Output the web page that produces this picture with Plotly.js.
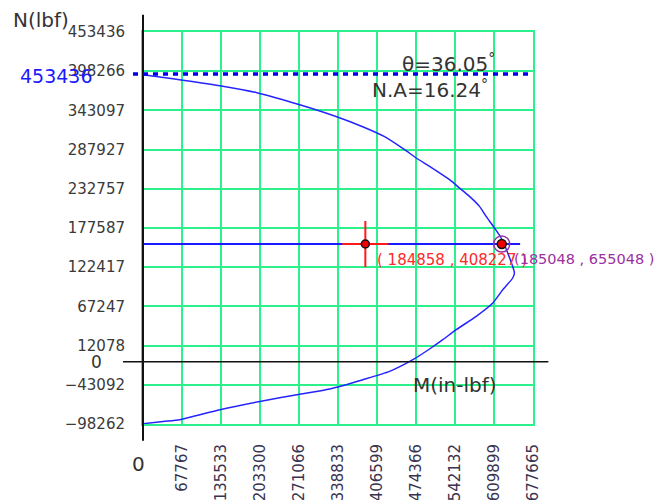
<!DOCTYPE html>
<html>
<head>
<meta charset="utf-8">
<script src="https://cdn.plot.ly/plotly-3.0.1.min.js"></script>
<style>html,body{margin:0;padding:0;background:#fff;}#chart{width:662px;height:500px;}</style>
</head>
<body>
<div id="chart"></div>
<script>
// ---- data ----
const xTickValues = [0, 67767, 135533, 203300, 271066, 338833, 406599, 474366, 542132, 609899, 677665];
const xTickLabels = ["", "67767", "135533", "203300", "271066", "338833", "406599", "474366", "542132", "609899", "677665"];
const yTickValues = [-98262, -43092, 12078, 67247, 122417, 177587, 232757, 287927, 343097, 398266, 453436];
const yTickLabels = ["\u221298262", "\u221243092", "12078", "67247", "122417", "177587", "232757", "287927", "343097", "398266", "453436"];

// interaction curve M (in-lbf) vs N (lbf)
const curveM = [0, 52048, 133590, 197780, 272380, 336570, 381680, 419850, 454550, 474840, 497920, 532620, 549970, 567320, 584670, 596290, 610690, 622310, 633770, 645390, 642440, 625090, 607740, 578940, 544240, 521000, 497920, 468950, 428530, 382200, 324430, 272380, 202990, 133590, 64190, 35220, 0];
const curveN = [393340, 387710, 377860, 368010, 351120, 334230, 320155, 306080, 287785, 276100, 264280, 245560, 233880, 222060, 207985, 193910, 177585, 163510, 142400, 114250, 107215, 90750, 72030, 53170, 34450, 20380, 7290, -7770, -24240, -35920, -49010, -56325, -66460, -78140, -92210, -94610, -97840];

// M axis ("0" line) as drawn on the grid scale
const originN = -10700;

// load line and points
const loadLineM = [0, 655270];
const loadLineN = [155070, 155070];
const appliedPoint = {m: 386360, n: 155070, label: "( 184858 , 408227 )"};
const capacityPoint = {m: 623350, n: 155070, label: "(185048 , 655048 )"};

// max axial capacity (dotted line) and its label
const maxN = 394330;
const maxNLabel = "453436";
const thetaText = "\u03b8=36.05<sup>\u00b0</sup>";
const naText = "N.A=16.24<sup>\u00b0</sup>";

const gridGreen = "#2cf08c";
const F = "DejaVu Sans, sans-serif";

const traces = [
  {x: curveM, y: curveN, mode: "lines", line: {color: "#2424ff", width: 1.5, shape: "spline", smoothing: 0.6}, hoverinfo: "skip"},
  {x: loadLineM, y: loadLineN, mode: "lines", line: {color: "#1a1aff", width: 2}, hoverinfo: "skip"},
  {x: [appliedPoint.m], y: [appliedPoint.n], mode: "markers", cliponaxis: false,
   marker: {symbol: "cross-thin-open", size: 33, color: "#ff1a1a", line: {color: "#ff1a1a", width: 2}}},
  {x: [appliedPoint.m], y: [appliedPoint.n], mode: "markers", cliponaxis: false,
   marker: {symbol: "circle", size: 8, color: "#ee0000", line: {color: "#111", width: 1.5}}},
  {x: [capacityPoint.m], y: [capacityPoint.n], mode: "markers", cliponaxis: false,
   marker: {symbol: "circle-open", size: 16, color: "#9b30a0", line: {color: "#9b30a0", width: 1.5}}},
  {x: [capacityPoint.m], y: [capacityPoint.n], mode: "markers", cliponaxis: false,
   marker: {symbol: "circle", size: 9, color: "#ee0000", line: {color: "#111", width: 1.5}}}
];

const layout = {
  width: 662, height: 500,
  margin: {l: 143, r: 129, t: 32, b: 76, pad: 0},
  paper_bgcolor: "#fff", plot_bgcolor: "#fff",
  showlegend: false,
  font: {family: F, color: "#333"},
  xaxis: {
    range: [xTickValues[0], xTickValues[xTickValues.length - 1]],
    tickmode: "array", tickvals: xTickValues, ticktext: xTickLabels,
    tickangle: -90, ticks: "outside", ticklen: 12, tickcolor: "rgba(0,0,0,0)",
    tickfont: {family: F, size: 15, color: "#3a3350"},
    showgrid: true, gridcolor: gridGreen, gridwidth: 2,
    zeroline: false, showline: true, linecolor: gridGreen, linewidth: 2, mirror: true,
    fixedrange: true
  },
  yaxis: {
    range: [yTickValues[0], yTickValues[yTickValues.length - 1]],
    tickmode: "array", tickvals: yTickValues, ticktext: yTickLabels,
    ticks: "outside", ticklen: 13, tickcolor: "rgba(0,0,0,0)",
    tickfont: {family: F, size: 15, color: "#3a3a3a"},
    showgrid: true, gridcolor: gridGreen, gridwidth: 2,
    zeroline: false, showline: true, linecolor: gridGreen, linewidth: 2, mirror: true,
    fixedrange: true
  },
  shapes: [
    // M axis line
    {type: "line", xref: "paper", yref: "y", x0: -0.0512, x1: 1.0394, y0: originN, y1: originN,
     line: {color: "#111", width: 1.5}, layer: "above"},
    // vertical N axis
    {type: "line", xref: "paper", yref: "paper", x0: 0, x1: 0, y0: -0.0426, y1: 1.044,
     line: {color: "#111", width: 2}, layer: "above"},
    // max N dotted line
    {type: "line", xref: "paper", yref: "y", x0: -0.0256, x1: 1.0, y0: maxN, y1: maxN,
     line: {color: "#0000ee", width: 3.5, dash: "5px,5px"}, layer: "above"}
  ],
  annotations: [
    {xref: "paper", yref: "paper", x: -0.2615, y: 1.030, xanchor: "center", yanchor: "middle", text: "N(lbf)", showarrow: false,
     font: {family: F, size: 20, color: "#333"}},
    {xref: "paper", yref: "y", x: -0.223, y: maxN, xanchor: "center", yanchor: "middle", yshift: -2, text: maxNLabel, showarrow: false,
     font: {family: F, size: 19, color: "#1a1aff"}},
    {xref: "paper", yref: "paper", x: 0.660, y: 0.922, xanchor: "left", yanchor: "middle", text: thetaText, showarrow: false,
     font: {family: F, size: 20, color: "#333"}},
    {xref: "paper", yref: "paper", x: 0.583, y: 0.855, xanchor: "left", yanchor: "middle", text: naText, showarrow: false,
     font: {family: F, size: 20, color: "#333"}},
    {xref: "paper", yref: "paper", x: 0.686, y: 0.100, xanchor: "left", yanchor: "middle", text: "M(in-lbf)", showarrow: false,
     font: {family: F, size: 20, color: "#333"}},
    {xref: "paper", yref: "y", x: -0.1205, y: originN, xanchor: "center", yanchor: "middle", text: "0", showarrow: false,
     font: {family: F, size: 17, color: "#333"}},
    {xref: "paper", yref: "paper", x: -0.0103, y: -0.1026, xanchor: "center", yanchor: "middle", text: "0", showarrow: false,
     font: {family: F, size: 20, color: "#333"}},
    {xref: "x", yref: "y", x: appliedPoint.m, y: appliedPoint.n, xanchor: "left", yanchor: "middle", xshift: 10, yshift: -16,
     text: appliedPoint.label, showarrow: false, font: {family: F, size: 15, color: "#ff2a2a"}},
    {xref: "x", yref: "y", x: capacityPoint.m, y: capacityPoint.n, xanchor: "left", yanchor: "middle", xshift: 10, yshift: -15,
     text: capacityPoint.label, showarrow: false, font: {family: F, size: 14.5, color: "#9b30a0"}}
  ]
};

Plotly.newPlot("chart", traces, layout, {displayModeBar: false, staticPlot: true});
</script>
</body>
</html>
